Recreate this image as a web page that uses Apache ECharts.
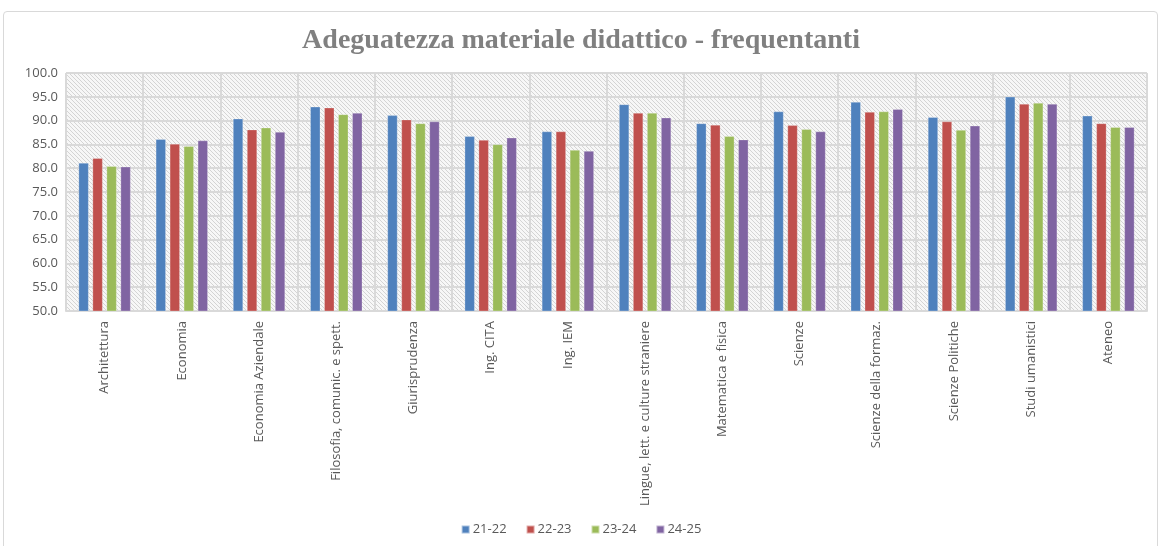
<!DOCTYPE html>
<html>
<head>
<meta charset="utf-8">
<script src="https://cdn.jsdelivr.net/npm/echarts@6/dist/echarts.min.js"></script>
<style>
  html, body { margin: 0; padding: 0; background: #fff; }
  #frame { position: absolute; left: 3px; top: 11px; width: 1155px; height: 540px; border: 1px solid #d9d9d9; border-radius: 4px; box-sizing: border-box; }
  #chart { position: absolute; left: 0; top: 0; width: 1162px; height: 546px; }
</style>
</head>
<body>
<div id="frame"></div>
<div id="chart"></div>
<script>
// categorie (corsi di studio)
const categories = [
  'Architettura', 'Economia', 'Economia Aziendale', 'Filosofia, comunic. e spett.',
  'Giurisprudenza', 'Ing. CITA', 'Ing. IEM', 'Lingue, lett. e culture straniere',
  'Matematica e fisica', 'Scienze', 'Scienze della formaz.', 'Scienze Politiche',
  'Studi umanistici', 'Ateneo'
]
const years = ['21-22', '22-23', '23-24', '24-25']

const a2122 = [81.1, 86.1, 90.4, 92.9, 91.1, 86.7, 87.7, 93.4, 89.4, 91.9, 93.9, 90.7, 95.0, 91.0]
const a2223 = [82.1, 85.1, 88.1, 92.7, 90.2, 85.9, 87.7, 91.6, 89.1, 89.0, 91.8, 89.8, 93.5, 89.4]
const a2324 = [80.4, 84.6, 88.5, 91.3, 89.4, 85.0, 83.8, 91.6, 86.7, 88.2, 91.9, 88.0, 93.7, 88.6]
const a2425 = [80.3, 85.8, 87.6, 91.6, 89.8, 86.4, 83.6, 90.6, 86.0, 87.7, 92.4, 88.9, 93.5, 88.6]

const seriesData = [a2122, a2223, a2324, a2425]
const colors = ['#4F81BD', '#C0504D', '#9BBB59', '#8064A2']

// trama a righe diagonali per lo sfondo dell'area del grafico
const makeHatch = () => {
  const c = document.createElement('canvas')
  c.width = 4
  c.height = 4
  const ctx = c.getContext('2d')
  ctx.fillStyle = '#f7f7f7'
  ctx.fillRect(0, 0, 4, 4)
  ctx.strokeStyle = '#d4d4d4'
  ctx.lineWidth = 1
  ctx.beginPath()
  ctx.moveTo(-1, -1)
  ctx.lineTo(5, 5)
  ctx.moveTo(-1, 3)
  ctx.lineTo(1, 5)
  ctx.moveTo(3, -1)
  ctx.lineTo(5, 1)
  ctx.stroke()
  return c
}

const chart = echarts.init(document.getElementById('chart'))

chart.setOption({
  animation: false,
  title: {
    text: 'Adeguatezza materiale didattico - frequentanti',
    left: 'center',
    top: 22,
    textStyle: {
      fontFamily: 'Liberation Serif',
      fontSize: 28,
      fontWeight: 'bold',
      color: '#808080'
    }
  },
  legend: {
    data: years,
    bottom: 5,
    left: 'center',
    icon: 'rect',
    itemWidth: 8,
    itemHeight: 8,
    itemGap: 19,
    textStyle: { fontFamily: 'Open Sans', fontSize: 13, color: '#595959', padding: [0, 0, 0, -2] }
  },
  grid: {
    left: 66,
    right: 15,
    top: 73,
    bottom: 235,
    show: true,
    borderWidth: 0,
    backgroundColor: { image: makeHatch(), repeat: 'repeat' }
  },
  xAxis: {
    type: 'category',
    data: categories,
    axisLine: { lineStyle: { color: '#d9d9d9', width: 2 } },
    axisTick: { show: false },
    splitLine: { show: true, interval: 0, lineStyle: { color: '#d9d9d9', width: 2 } },
    axisLabel: {
      rotate: 90,
      interval: 0,
      margin: 10,
      fontFamily: 'Open Sans',
      fontSize: 13,
      color: '#595959'
    }
  },
  yAxis: {
    type: 'value',
    min: 50,
    max: 100,
    interval: 5,
    axisLine: { show: false },
    axisTick: { show: false },
    splitLine: { lineStyle: { color: '#d9d9d9', width: 2 } },
    axisLabel: {
      formatter: (v) => v.toFixed(1),
      margin: 8,
      fontFamily: 'Open Sans',
      fontSize: 13,
      color: '#595959'
    }
  },
  series: years.map((y, i) => ({
    name: y,
    type: 'bar',
    data: seriesData[i],
    barWidth: 10,
    barGap: '40%',
    itemStyle: {
      color: colors[i],
      borderColor: 'rgba(255,255,255,0.5)',
      borderWidth: 0.5
    }
  }))
})
</script>
</body>
</html>
